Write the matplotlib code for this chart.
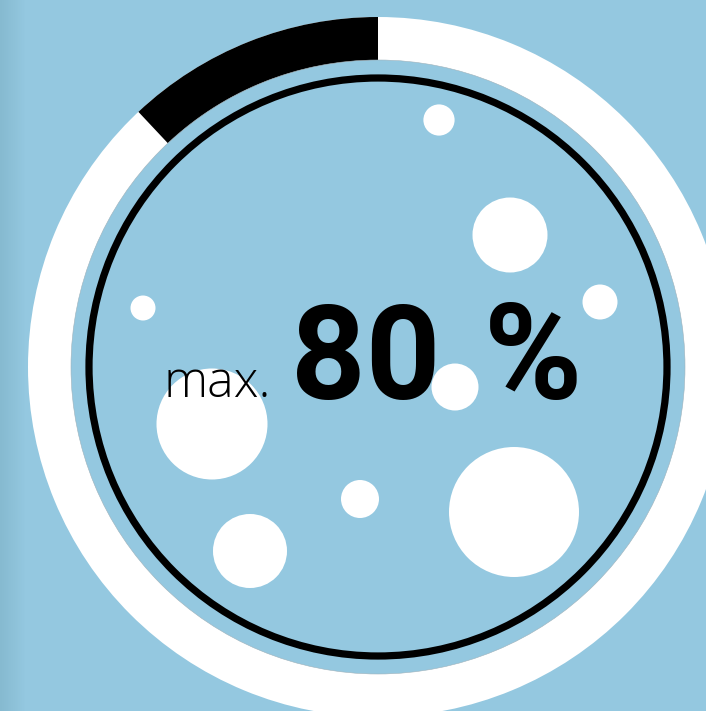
import numpy as np
import matplotlib
matplotlib.use("Agg")
import matplotlib.pyplot as plt
from matplotlib.patches import Circle, Wedge

# gauge: share of the ring drawn in black (fraction of full turn)
filled_share = 0.12
value_label = "80"
unit_label = "%"
prefix_label = "max."

# decorative bubbles (pixel coords, y down)
bubble_x = [439, 510, 600, 143, 455, 212, 360, 514, 250]
bubble_y = [120, 235, 302, 308, 387, 424, 499, 512, 551]
bubble_r = [15.6, 37.5, 17.5, 12.5, 23.5, 55.5, 19, 65, 37]

BG = "#94c8e0"
W, H = 706, 711
cx, cy = 378, 367

fig = plt.figure(figsize=(W / 100, H / 100), dpi=100)
fig.patch.set_facecolor(BG)
ax = fig.add_axes([0, 0, 1, 1])
ax.set_xlim(0, W)
ax.set_ylim(H, 0)
ax.set_aspect("equal")
ax.axis("off")

# darker strip on the left edge
grad = np.linspace(0, 1, 26)[None, :]
cmap = matplotlib.colors.LinearSegmentedColormap.from_list("edge", ["#86bad0", BG])
ax.imshow(grad, cmap=cmap, extent=(0, 26, H, 0), aspect="auto", zorder=0)

# outer ring: white track + black filled part (counter-clockwise from top)
ax.add_patch(Wedge((cx, cy), 350, 0, 360, width=43, facecolor="white",
                   edgecolor="none", zorder=1))
span = 360 * filled_share
ax.add_patch(Wedge((cx, cy), 350, -90 - span, -90, width=43, facecolor="black",
                   edgecolor="none", zorder=2))
ax.add_patch(Circle((cx, cy), 307, fill=False, edgecolor="#9fb2bb", lw=0.4, zorder=2))

# inner black circle
ax.add_patch(Circle((cx, cy), 289, fill=False, edgecolor="black", lw=5.2, zorder=3))

for x, y, r in zip(bubble_x, bubble_y, bubble_r):
    ax.add_patch(Circle((x, y), r, facecolor="white", edgecolor="none", zorder=4))

ax.text(164, 397, prefix_label, fontsize=36, family="Open Sans", weight="light",
        color="black", ha="left", va="baseline", zorder=5)
ax.text(291, 399, value_label, fontsize=94, family="Roboto", weight="bold",
        color="black", ha="left", va="baseline", zorder=5)
ax.text(484, 399, unit_label, fontsize=96, family="Roboto", weight="bold",
        color="black", ha="left", va="baseline", zorder=5)

fig.savefig("out.png", dpi=100, facecolor=BG)
